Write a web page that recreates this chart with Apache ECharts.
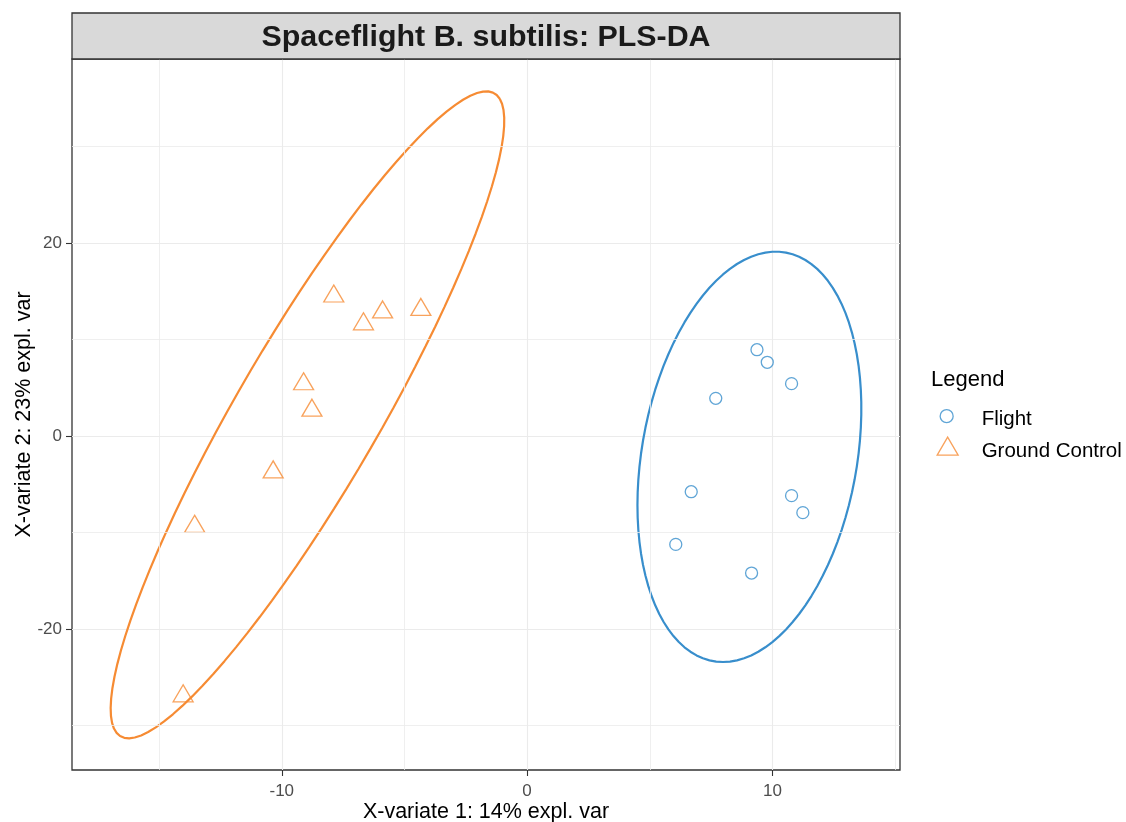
<!DOCTYPE html>
<html>
<head>
<meta charset="utf-8">
<script src="https://cdn.jsdelivr.net/npm/echarts@6/dist/echarts.min.js"></script>
<style>html,body{margin:0;padding:0;background:#fff}#c{width:1126px;height:822px}</style>
</head>
<body>
<div id="c"></div>
<script>
// ---- data ----
const flightX = [9.37, 9.79, 10.78, 7.69, 6.69, 10.78, 11.24, 6.06, 9.15];
const flightY = [8.94, 7.63, 5.42, 3.90, -5.77, -6.18, -7.94, -11.23, -14.20];
const groundX = [-7.88, -6.67, -5.89, -4.33, -9.11, -8.77, -10.35, -13.55, -14.02];
const groundY = [14.45, 11.57, 12.8, 13.06, 5.36, 2.62, -3.77, -9.4, -26.97];
const seriesNames = ['Flight', 'Ground Control'];
const xTicks = [-10, 0, 10];
const yTicks = [-20, 0, 20];
const xMinor = [-15, -5, 5, 15];
const yMinor = [-30, -10, 10, 30];
const titleText = 'Spaceflight B. subtilis: PLS-DA';
const legendTitle = 'Legend';
const xName = 'X-variate 1: 14% expl. var';
const yName = 'X-variate 2: 23% expl. var';
const ellipseLevel = 0.95;

const BLUE = '#388ECC', ORANGE = '#F68B33';
const FONT = '"Liberation Sans", Arial, sans-serif';

function pairs(xs, ys) { return xs.map((x, i) => [x, ys[i]]); }

// 95% confidence ellipse from the group's covariance (as ellipse::ellipse does)
function ellipse(xs, ys, level, n) {
  const m = xs.length;
  const mx = xs.reduce((a, b) => a + b, 0) / m;
  const my = ys.reduce((a, b) => a + b, 0) / m;
  let sxx = 0, syy = 0, sxy = 0;
  for (let i = 0; i < m; i++) {
    sxx += (xs[i] - mx) ** 2; syy += (ys[i] - my) ** 2; sxy += (xs[i] - mx) * (ys[i] - my);
  }
  sxx /= (m - 1); syy /= (m - 1); sxy /= (m - 1);
  const sx = Math.sqrt(sxx), sy = Math.sqrt(syy);
  let r = sxy / (sx * sy); r = Math.min(Math.max(r, -1), 1);
  const d = Math.acos(r);
  const t = Math.sqrt(-2 * Math.log(1 - level));
  const out = [];
  for (let i = 0; i < n; i++) {
    const a = 2 * Math.PI * i / (n - 1);
    out.push([t * sx * Math.cos(a + d / 2) + mx, t * sy * Math.cos(a - d / 2) + my]);
  }
  return out;
}

const chart = echarts.init(document.getElementById('c'), null, {renderer: 'canvas'});
const gridL = 72, gridR = 900, gridT = 59, gridB = 770;

const option = {
  animation: false,
  backgroundColor: '#fff',
  textStyle: {fontFamily: FONT},
  grid: {left: gridL, right: 1126 - gridR, top: gridT, bottom: 822 - gridB, show: true,
         containLabel: false, outerBoundsMode: 'none',
         borderColor: '#333333', borderWidth: 1.3, backgroundColor: '#fff'},
  xAxis: {
    type: 'value', min: -18.55, max: 15.2,
    axisLine: {show: false, onZero: false},
    axisTick: {show: true, customValues: xTicks, length: 6, lineStyle: {color: '#333333', width: 1.1}},
    axisLabel: {customValues: xTicks, color: '#4D4D4D', fontSize: 17, margin: 13, fontFamily: FONT},
    splitLine: {show: true, lineStyle: {color: '#EBEBEB', width: 1.1}},
    name: xName, nameLocation: 'middle', nameGap: 31, nameMoveOverlap: false,
    nameTextStyle: {color: '#000', fontSize: 21.5, fontFamily: FONT}
  },
  yAxis: {
    type: 'value', min: -34.6, max: 39.05,
    axisLine: {show: false, onZero: false},
    axisTick: {show: true, customValues: yTicks, length: 6, lineStyle: {color: '#333333', width: 1.1}},
    axisLabel: {customValues: yTicks, color: '#4D4D4D', fontSize: 17, margin: 10, fontFamily: FONT},
    splitLine: {show: true, lineStyle: {color: '#EBEBEB', width: 1.1}},
    name: yName, nameLocation: 'middle', nameGap: 37, nameRotate: 90, nameMoveOverlap: false,
    nameTextStyle: {color: '#000', fontSize: 21.5, fontFamily: FONT}
  },
  legend: [
    {
      data: [{name: seriesNames[0], icon: 'circle'}],
      orient: 'vertical', left: 934.5, top: 404, itemWidth: 13, itemHeight: 13,
      itemStyle: {borderWidth: 1.3},
      formatter: n => '{t|' + n + '}',
      textStyle: {fontSize: 20.5, color: '#000', fontFamily: FONT, padding: [0, 0, 0, 23.5],
                  rich: {t: {fontSize: 20.5, fontFamily: FONT, color: '#000', padding: [7, 0, 0, 0]}}},
      selectedMode: false
    },
    {
      data: [{name: seriesNames[1], icon: 'triangle'}],
      orient: 'vertical', left: 931.5, top: 431.5, itemWidth: 21, itemHeight: 18,
      itemStyle: {borderWidth: 1.3},
      formatter: n => '{t|' + n + '}',
      textStyle: {fontSize: 20.5, color: '#000', fontFamily: FONT, padding: [0, 0, 0, 18.5],
                  rich: {t: {fontSize: 20.5, fontFamily: FONT, color: '#000', padding: [11, 0, 0, 0]}}},
      selectedMode: false
    }
  ],
  graphic: [
    {type: 'rect', z: 10, shape: {x: gridL, y: 13, width: gridR - gridL, height: 46},
     style: {fill: '#D9D9D9', stroke: '#333333', lineWidth: 1.3}},
    {type: 'text', z: 11, x: (gridL + gridR) / 2, y: 38,
     style: {text: titleText, fontSize: 30.4, fontWeight: 'bold', fontFamily: FONT,
             align: 'center', verticalAlign: 'middle', fill: '#1A1A1A'}},
    {type: 'text', z: 11, x: 931, y: 380,
     style: {text: legendTitle, fontSize: 22, fontFamily: FONT, align: 'left', verticalAlign: 'middle', fill: '#000'}}
  ],
  series: [
    {
      type: 'line', name: '_minor', data: [], z: 0, silent: true,
      markLine: {
        silent: true, symbol: 'none', label: {show: false}, animation: false,
        lineStyle: {color: '#EBEBEB', width: 0.8, type: 'solid'},
        emphasis: {disabled: true},
        data: xMinor.map(v => ({xAxis: v})).concat(yMinor.map(v => ({yAxis: v})))
      }
    },
    {
      type: 'line', name: 'Flight ellipse', data: ellipse(flightX, flightY, ellipseLevel, 100),
      showSymbol: false, symbol: 'none', smooth: false, z: 3, silent: true,
      lineStyle: {color: BLUE, width: 2.2}
    },
    {
      type: 'line', name: 'Ground Control ellipse', data: ellipse(groundX, groundY, ellipseLevel, 100),
      showSymbol: false, symbol: 'none', smooth: false, z: 3, silent: true,
      lineStyle: {color: ORANGE, width: 2.2}
    },
    {
      type: 'scatter', name: seriesNames[0], data: pairs(flightX, flightY), z: 4,
      symbol: 'circle', symbolSize: 12,
      itemStyle: {color: 'rgba(255,255,255,0)', borderColor: BLUE, borderWidth: 1.3}
    },
    {
      type: 'scatter', name: seriesNames[1], data: pairs(groundX, groundY), z: 4,
      symbol: 'triangle', symbolSize: [20, 17], symbolOffset: [0, -3],
      itemStyle: {color: 'rgba(255,255,255,0)', borderColor: ORANGE, borderWidth: 1.3}
    }
  ]
};
chart.setOption(option);
</script>
</body>
</html>
